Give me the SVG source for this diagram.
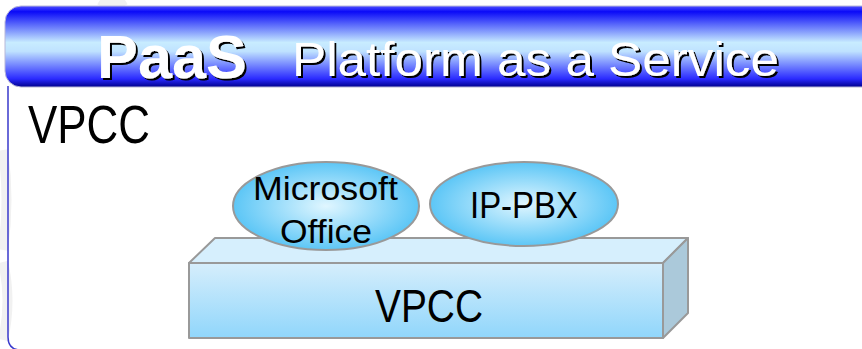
<svg xmlns="http://www.w3.org/2000/svg" width="862" height="349" viewBox="0 0 862 349">
<defs>
<linearGradient id="hdr" x1="0" y1="0" x2="0" y2="1">
<stop offset="0" stop-color="#5050ff"/>
<stop offset="0.07" stop-color="#0a0af8"/>
<stop offset="0.45" stop-color="#c8ecff"/>
<stop offset="0.56" stop-color="#bfe2ff"/>
<stop offset="0.9" stop-color="#2a2aff"/>
<stop offset="1" stop-color="#00008c"/>
</linearGradient>
<linearGradient id="front" x1="0" y1="0" x2="0" y2="1">
<stop offset="0" stop-color="#d6eefc"/>
<stop offset="1" stop-color="#90d6fb"/>
</linearGradient>
<radialGradient id="ell" cx="0.5" cy="0.5" r="0.5">
<stop offset="0" stop-color="#e0f6ff"/>
<stop offset="1" stop-color="#5cc6f6"/>
</radialGradient>
<filter id="shadow" x="-5%" y="-10%" width="115%" height="130%">
<feOffset in="SourceAlpha" dx="2" dy="2" result="off"/>
<feFlood flood-color="#000000"/>
<feComposite in2="off" operator="in" result="sh"/>
<feMerge><feMergeNode in="sh"/><feMergeNode in="SourceGraphic"/></feMerge>
</filter>
<style>
.edge{stroke:#999999;stroke-width:2;stroke-linejoin:round}
.lbl{font-family:"Liberation Sans",Arial,sans-serif;fill:#000000}
.hd{font-family:"Liberation Sans",Arial,sans-serif;fill:#ffffff;filter:url(#shadow)}
</style>
</defs>
<rect width="862" height="349" fill="#ffffff"/>
<g id="background" fill="none" stroke="#f1f1f1" stroke-width="10">
<path d="M3,150 Q10,200 3,250"/>
<path d="M3,262 Q12,300 3,340"/>
<path d="M100,0 Q112,8 125,0"/>
</g>
<g id="frame">
<path d="M8,86 V337 Q8,350 21,350 H870" fill="none" stroke="#3a3acc" stroke-width="1.5"/>
</g>
<g id="header">
<rect x="5" y="6" width="880" height="81" rx="16" ry="16" fill="url(#hdr)" stroke="#b8b8d8" stroke-width="1"/>
<text class="hd" x="97" y="78" font-size="61" font-weight="bold" textLength="150" lengthAdjust="spacingAndGlyphs">PaaS</text>
<text class="hd" x="292" y="76" font-size="49" textLength="487" lengthAdjust="spacingAndGlyphs">Platform as a Service</text>
</g>
<g id="title">
<text class="lbl" x="28" y="143" font-size="53" textLength="122" lengthAdjust="spacingAndGlyphs">VPCC</text>
</g>
<g id="vpcc-box">
<polygon class="edge" points="189,263 215,238 688,238 663,263" fill="#d6effd"/>
<polygon class="edge" points="663,263 688,238 688,313 663,338" fill="#abc9da"/>
<rect class="edge" x="189" y="263" width="474" height="75" fill="url(#front)"/>
<text class="lbl" x="375" y="322" font-size="47" textLength="108" lengthAdjust="spacingAndGlyphs">VPCC</text>
</g>
<g id="microsoft-office">
<ellipse class="edge" cx="326" cy="206" rx="93" ry="44" fill="url(#ell)"/>
<text class="lbl" x="253" y="200" font-size="34" textLength="145" lengthAdjust="spacingAndGlyphs">Microsoft</text>
<text class="lbl" x="280" y="243" font-size="34" textLength="92" lengthAdjust="spacingAndGlyphs">Office</text>
</g>
<g id="ip-pbx">
<ellipse class="edge" cx="524" cy="204" rx="94" ry="42" fill="url(#ell)"/>
<text class="lbl" x="470" y="218" font-size="36" textLength="108" lengthAdjust="spacingAndGlyphs">IP-PBX</text>
</g>
<g id="connectors"/>
</svg>
